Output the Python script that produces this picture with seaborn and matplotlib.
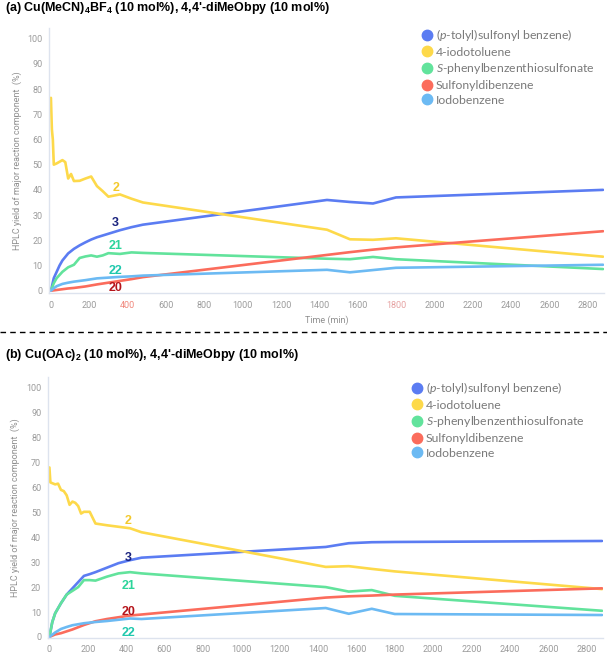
import numpy as np
import pandas as pd
import seaborn as sns
import matplotlib
matplotlib.use("Agg")
import matplotlib.pyplot as plt
from matplotlib.lines import Line2D

sns.set_style("white")
plt.rcParams['font.family'] = ['Roboto', 'DejaVu Sans']
plt.rcParams['mathtext.fontset'] = 'custom'
plt.rcParams['mathtext.rm'] = 'Liberation Sans:bold'
plt.rcParams['mathtext.it'] = 'Lato:italic'

# ---------------- data ----------------
compounds = ["(p-tolyl)sulfonyl benzene)", "4-iodotoluene", "S-phenylbenzenthiosulfonate",
             "Sulfonyldibenzene", "Iodobenzene"]
legend_labels = ["($p$-tolyl)sulfonyl benzene)", "4-iodotoluene", "$S$-phenylbenzenthiosulfonate",
                 "Sulfonyldibenzene", "Iodobenzene"]
colors = ["#5b7cf2", "#fdd94a", "#62e39c", "#fb6c5c", "#6cbaf3"]

# panel (a)
a_blue_t = [0, 15, 30, 45, 60, 90, 120, 150, 180, 210, 240, 300, 360, 420, 480, 1440, 1560, 1680, 1800, 2880]
a_blue_y = [0, 5, 7.5, 10, 12, 14.8, 16.6, 18, 19.2, 20.3, 21.2, 22.6, 24, 25.2, 26.2, 36, 35.2, 34.6, 37, 40]
a_yel_t = [0, 5, 10, 15, 30, 60, 75, 90, 105, 120, 150, 180, 210, 240, 270, 300, 360, 420, 480, 1440, 1560, 1680, 1800, 2880]
a_yel_y = [76.5, 64, 60, 50, 50.5, 51.8, 51, 44.5, 46.3, 43.5, 43.6, 44.5, 45.3, 41.5, 39.5, 37.3, 38.2, 36.5, 35, 24.2, 20.4, 20.2, 20.8, 13.5]
a_grn_t = [0, 15, 30, 60, 90, 120, 150, 180, 210, 240, 270, 300, 360, 420, 480, 1440, 1560, 1680, 1800, 2880]
a_grn_y = [0, 3, 5, 7.5, 9.3, 10.3, 13, 13.6, 14, 13.5, 14, 14.9, 14.6, 15.2, 15, 12.7, 12.5, 13.4, 12.5, 8.6]
a_red_t = [0, 30, 60, 90, 120, 180, 240, 300, 360, 420, 480, 1440, 1560, 1680, 1800, 2880]
a_red_y = [0, 0.3, 0.6, 0.9, 1.1, 1.7, 2.5, 3.2, 3.9, 4.6, 5.4, 14.2, 15.3, 16.3, 17.2, 23.6]
a_lb_t = [0, 15, 30, 60, 90, 120, 180, 240, 300, 360, 420, 480, 1440, 1560, 1680, 1800, 2880]
a_lb_y = [0, 1, 1.8, 2.7, 3.2, 3.6, 4.2, 4.9, 5.2, 5.5, 5.7, 6.0, 8.3, 7.3, 8.2, 9.1, 10.3]

# panel (b)
b_blue_t = [0, 15, 30, 60, 90, 120, 150, 180, 210, 240, 300, 360, 420, 480, 1440, 1560, 1680, 1800, 2880]
b_blue_y = [0, 6, 9.5, 13.5, 17, 19.5, 22, 24.5, 25.2, 26, 27.8, 29.6, 30.8, 31.8, 36.1, 37.6, 38, 38.1, 38.5]
b_yel_t = [0, 5, 30, 45, 60, 75, 90, 105, 120, 135, 150, 165, 180, 210, 240, 300, 360, 420, 480, 1440, 1560, 1680, 1800, 2880]
b_yel_y = [68, 62, 61.2, 61.5, 59, 58.5, 56.8, 53, 54.3, 53.8, 52.5, 49.5, 50.2, 50.2, 45.5, 44.8, 44.2, 43.6, 42, 28.1, 28.4, 27.3, 26.3, 19.2]
b_grn_t = [0, 15, 30, 60, 90, 120, 150, 180, 210, 240, 300, 360, 420, 480, 1440, 1560, 1680, 1800, 2880]
b_grn_y = [0, 6, 9.5, 13.5, 17, 18.5, 20, 22.8, 22.8, 22.6, 24.2, 25.5, 26, 25.5, 20, 18.2, 18.8, 16.5, 10.5]
b_red_t = [0, 30, 60, 120, 180, 240, 300, 360, 420, 480, 1440, 1560, 1680, 1800, 2880]
b_red_y = [0, 1, 1.5, 3, 4.8, 6.3, 7.2, 7.9, 8.6, 9.0, 15.8, 16.3, 16.6, 17, 19.5]
b_lb_t = [0, 30, 60, 90, 120, 180, 240, 300, 360, 420, 480, 1440, 1560, 1680, 1800, 2880]
b_lb_y = [0, 1.8, 3.2, 4, 4.7, 5.5, 6, 6.4, 6.9, 7.4, 7.2, 11.6, 9.3, 11.3, 9.2, 8.8]

x_ticks = list(range(0, 2801, 200))
y_ticks = list(range(0, 101, 10))

# number annotations: (text, t, y, color)
a_labels = [("2", 338, 40.6, "#f3c92c"), ("3", 338, 27.0, "#1a237e"), ("21", 338, 17.8, "#2bd49a"),
            ("22", 338, 7.8, "#1fc8ad"), ("20", 338, 0.9, "#b5141b")]
b_labels = [("2", 411, 46.5, "#f3c92c"), ("3", 411, 31.8, "#1a237e"), ("21", 411, 20.3, "#2bd49a"),
            ("20", 411, 10.1, "#b5141b"), ("22", 411, 1.6, "#1fc8ad")]

titles = [r"(a) Cu(MeCN)$_4$BF$_4$ (10 mol%), 4,4'-diMeObpy (10 mol%)",
          r"(b) Cu(OAc)$_2$ (10 mol%), 4,4'-diMeObpy (10 mol%)"]


def make_df(series):
    frames = []
    for name, (t, y) in zip(compounds, series):
        frames.append(pd.DataFrame({"t": t, "y": y, "compound": name}))
    return pd.concat(frames, ignore_index=True)


df_a = make_df([(a_blue_t, a_blue_y), (a_yel_t, a_yel_y), (a_grn_t, a_grn_y),
                (a_red_t, a_red_y), (a_lb_t, a_lb_y)])
df_b = make_df([(b_blue_t, b_blue_y), (b_yel_t, b_yel_y), (b_grn_t, b_grn_y),
                (b_red_t, b_red_y), (b_lb_t, b_lb_y)])

W, H = 607, 653
fig = plt.figure(figsize=(W / 100, H / 100), dpi=100)


def px_rect(l, t, r, b):
    return [l / W, 1 - b / H, (r - l) / W, (b - t) / H]


ax_a = fig.add_axes(px_rect(49, 28, 604, 293))
ax_b = fig.add_axes(px_rect(47.5, 376.7, 603, 637.7))

palette = dict(zip(compounds, colors))
tick_col = "#9b9b9b"
spine_col = "#dde3ee"

for ax, df, labels, ylim in [(ax_a, df_a, a_labels, (-0.9, 104.2)), (ax_b, df_b, b_labels, (-0.3, 104.4))]:
    sns.lineplot(data=df, x="t", y="y", hue="compound", palette=palette, ax=ax,
                 legend=False, sort=False, linewidth=1.9, estimator=None)
    ax.set_xlim(-10, 2885)
    ax.set_ylim(*ylim)
    ax.set_xticks(x_ticks)
    ax.set_yticks(y_ticks)
    ax.tick_params(axis="both", labelsize=6.5, colors=tick_col, length=2.5, width=0.8,
                   pad=2)
    ax.tick_params(axis="x", pad=3)
    for s in ["top", "right"]:
        ax.spines[s].set_visible(False)
    for s in ["left", "bottom"]:
        ax.spines[s].set_color(spine_col)
        ax.spines[s].set_linewidth(1.0)
    ax.set_ylabel("HPLC yield of major reaction component  (%)", fontsize=6.5, color="#8f8f8f",
                  labelpad=4)
    ax.set_xlabel("")
    for txt, t, y, c in labels:
        ax.text(t, y, txt, color=c, fontsize=9, fontweight="bold", ha="center", va="center",
                family=["Liberation Sans", "DejaVu Sans"])
    for tl in ax.get_xticklabels() + ax.get_yticklabels():
        tl.set_color(tick_col)

ax_a.set_xlabel("Time (min)", fontsize=6.5, color="#8f8f8f", labelpad=4)
# reddish tick labels in panel (a)
for tl in ax_a.get_xticklabels():
    if tl.get_text() == "400":
        tl.set_color("#f0877c")
    if tl.get_text() == "1800":
        tl.set_color("#e6a2a2")

# legends
handles = [Line2D([0], [0], marker="o", linestyle="", markersize=7.5, markerfacecolor=c,
                  markeredgecolor=c) for c in colors]
for ax, (lx, ly) in [(ax_a, (422, 27)), (ax_b, (412, 380))]:
    leg = ax.legend(handles, legend_labels, loc="upper left",
                    bbox_to_anchor=(lx / W, 1 - ly / H), bbox_transform=fig.transFigure,
                    frameon=False, handlelength=0.8, handletextpad=0.35, labelspacing=0.3,
                    borderpad=0, borderaxespad=0,
                    prop={"family": ["Lato", "DejaVu Sans"], "size": 8.8})
    for t in leg.get_texts():
        t.set_color("#7a7a7a")

# titles
for txt, y in zip(titles, [8, 355]):
    fig.text(5 / W, 1 - y / H, txt, fontsize=9, fontweight="bold", ha="left", va="center",
             family=["Liberation Sans", "DejaVu Sans"], color="black")

# dashed separator
fig.add_artist(Line2D([0, 1], [1 - 332 / H, 1 - 332 / H], transform=fig.transFigure,
                      color="black", linewidth=1.0, linestyle=(0, (4, 3))))

fig.savefig("out.png", dpi=100)
